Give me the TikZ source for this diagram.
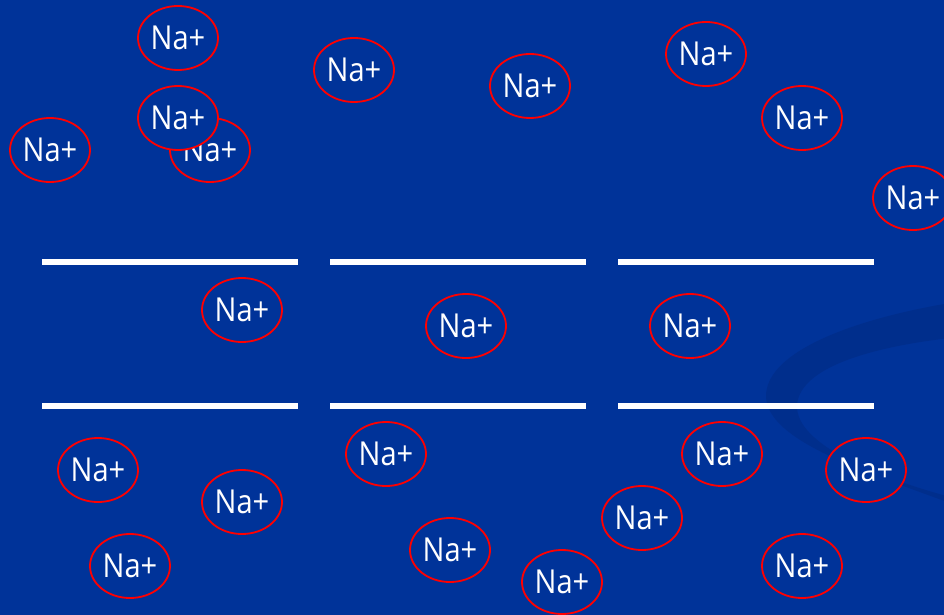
\documentclass[tikz,border=0pt]{standalone}
\usepackage{fontspec}
\usetikzlibrary{shapes.geometric}
\newfontfamily\nafont{Open Sans}[FakeStretch=0.88]
\definecolor{bgblue}{RGB}{0,51,153}
\definecolor{swoosh}{RGB}{0,46,140}
\tikzset{
  ion/.style={ellipse, draw=red, line width=1.8pt, fill=bgblue, text=white,
    minimum width=80pt, minimum height=64pt, inner sep=0pt,
    font=\nafont\fontsize{33}{33}\selectfont},
  membrane/.style={draw=white, line width=6pt}
}
\begin{document}
\begin{tikzpicture}[x=1pt,y=-1pt]
\useasboundingbox (0,0) rectangle (944,615);
\clip (0,0) rectangle (944,615);
\fill[bgblue] (0,0) rectangle (944,615);
% decorative swoosh
\fill[swoosh] (950,303) .. controls (860,318) and (765,350) .. (766,397)
  .. controls (768,440) and (860,470) .. (950,503)
  -- (950,497) .. controls (880,478) and (795,445) .. (797,405)
  .. controls (800,365) and (880,346) .. (950,338) -- cycle;
% membranes
\draw[membrane] (42,262) -- (298,262);
\draw[membrane] (330,262) -- (586,262);
\draw[membrane] (618,262) -- (874,262);
\draw[membrane] (42,406) -- (298,406);
\draw[membrane] (330,406) -- (586,406);
\draw[membrane] (618,406) -- (874,406);
% ions above
\node[ion] (n1) at (178,38) {Na+};
\node[ion] (n3) at (210,150) {Na+};
\node[ion] (n2) at (178,118) {Na+};
\node[ion] (n4) at (50,150) {Na+};
\node[ion] (n5) at (354,70) {Na+};
\node[ion] (n6) at (530,86) {Na+};
\node[ion] (n7) at (706,54) {Na+};
\node[ion] (n8) at (802,118) {Na+};
\node[ion] (n9) at (913,198) {Na+};
% ions in channels
\node[ion] (n10) at (242,310) {Na+};
\node[ion] (n11) at (466,326) {Na+};
\node[ion] (n12) at (690,326) {Na+};
% ions below
\node[ion] (n13) at (98,470) {Na+};
\node[ion] (n14) at (242,502) {Na+};
\node[ion] (n15) at (130,566) {Na+};
\node[ion] (n16) at (386,454) {Na+};
\node[ion] (n17) at (450,550) {Na+};
\node[ion] (n18) at (562,582) {Na+};
\node[ion] (n19) at (642,518) {Na+};
\node[ion] (n20) at (722,454) {Na+};
\node[ion] (n21) at (866,470) {Na+};
\node[ion] (n22) at (802,566) {Na+};
\end{tikzpicture}
\end{document}
